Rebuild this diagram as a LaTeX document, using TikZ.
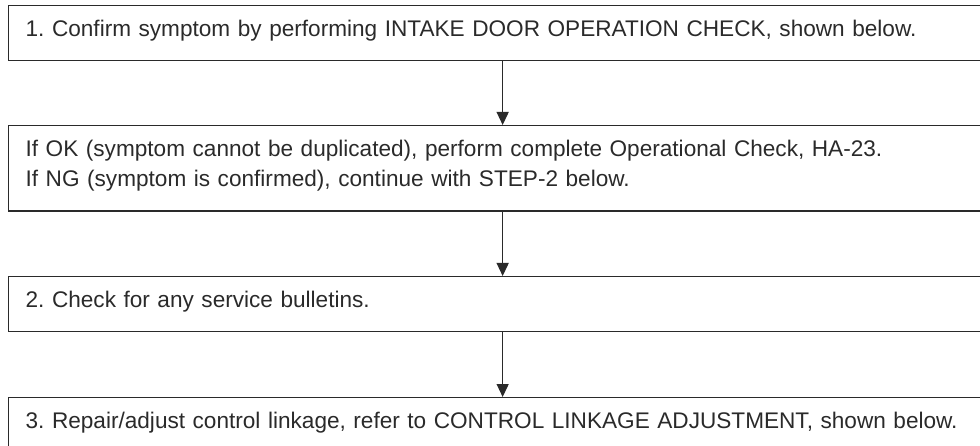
\documentclass[tikz,border=0pt]{standalone}
\usepackage{fontspec}
\setmainfont{Liberation Sans}
\usetikzlibrary{arrows.meta}
\definecolor{inkgray}{HTML}{2A2A2A}
\frenchspacing

\newcommand{\topstrut}{\rule{0pt}{31pt}}
\newcommand{\botstrut}[1][24pt]{\rule[-#1]{0pt}{#1}}

\begin{document}
\begin{tikzpicture}[
    x=1pt, y=-1pt,
    font=\fontsize{22.6}{29.5}\selectfont,
    stepbox/.style={rectangle, draw=inkgray, line width=1.3pt, text=inkgray, anchor=north west, inner xsep=17pt, inner ysep=0pt, text width=954pt, align=left},
    flow/.style={-{Triangle[length=13pt,width=12pt]}, line width=1.3pt, draw=inkgray}
]
\clip (0,0) rectangle (980,446);

\node[stepbox] (Confirm) at (8,5) {\topstrut 1. Confirm symptom by performing INTAKE DOOR OPERATION CHECK, shown below.\botstrut};

\node[stepbox] (Result) at (8,125) {\topstrut If OK (symptom cannot be duplicated), perform complete Operational Check, HA-23.\\
If NG (symptom is confirmed), continue with STEP-2 below.\botstrut[25pt]};

\node[stepbox] (Bulletins) at (8,276) {\topstrut 2. Check for any service bulletins.\botstrut};

\node[stepbox] (Linkage) at (8,397) {\topstrut 3. Repair/adjust control linkage, refer to CONTROL LINKAGE ADJUSTMENT, shown below.\botstrut[40pt]};

\draw[flow] (Confirm) -- (Result);
\draw[flow] (Result) -- (Bulletins);
\draw[flow] (Bulletins) -- (Linkage);
\end{tikzpicture}
\end{document}
